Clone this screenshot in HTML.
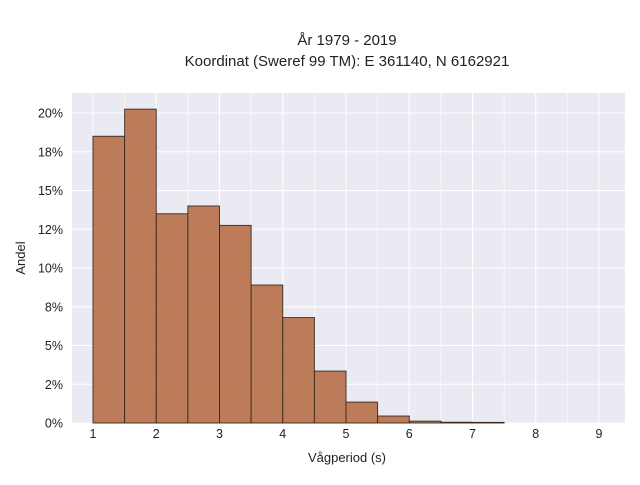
<!DOCTYPE html>
<html><head><meta charset="utf-8"><style>
body{margin:0;background:#fff;}
svg text{font-family:"Liberation Sans",sans-serif;fill:#222;}
</style></head><body>
<svg id="chart" width="640" height="480">
<text x="347" y="45" text-anchor="middle" font-size="15">År 1979 - 2019</text>
<text x="347" y="66" text-anchor="middle" font-size="15">Koordinat (Sweref 99 TM): E 361140, N 6162921</text>
<rect x="72" y="93" width="553" height="330" fill="#eaeaf2"/>
<g id="grid"></g><g id="bars"></g><g id="ticks"></g>
<text x="347" y="462" text-anchor="middle" font-size="13">Vågperiod (s)</text>
<text transform="translate(25,258) rotate(-90)" text-anchor="middle" font-size="13">Andel</text>
</svg>
<script>
const binStarts=[1,1.5,2,2.5,3,3.5,4,4.5,5,5.5,6,6.5,7];
const shares=[18.5,20.25,13.5,14.0,12.75,8.9,6.8,3.35,1.35,0.45,0.12,0.05,0.04];
const xTicks=[1,2,3,4,5,6,7,8,9];
const yTicks=[0,2.5,5,7.5,10,12.5,15,17.5,20];
const yLabels=["0%","2%","5%","8%","10%","12%","15%","18%","20%"];
const binWidth=0.5;
const NS="http://www.w3.org/2000/svg";
const X=v=>93+(v-1)*63.25;
const Y=v=>423-v*15.5;
const grid=document.getElementById('grid'),bars=document.getElementById('bars'),ticks=document.getElementById('ticks');
function mk(tag,attrs,parent){const e=document.createElementNS(NS,tag);for(const k in attrs)e.setAttribute(k,attrs[k]);parent.appendChild(e);return e;}
for(let v=1;v<=9.51;v+=0.5){
  const l=mk('line',{x1:X(v),x2:X(v),y1:93,y2:423,stroke:'#fff','stroke-width':v%1?0.6:1},grid);
  
  
}
yTicks.forEach((t,i)=>{
  const l=mk('line',{x1:72,x2:625,y1:Y(t),y2:Y(t),stroke:'#fff','stroke-width':1},grid);
  
  
  const tx=mk('text',{x:63,y:Y(t)+4.5,'text-anchor':'end','font-size':'12.5'},ticks);
  tx.textContent=yLabels[i];
  
  
});
xTicks.forEach(t=>{
  const tx=mk('text',{x:X(t),y:438,'text-anchor':'middle','font-size':'12.5'},ticks);
  tx.textContent=t;
  
  
});
binStarts.forEach((b,i)=>{
  const r=mk('rect',{x:X(b),y:Y(shares[i]),width:X(b+binWidth)-X(b),height:Y(0)-Y(shares[i]),fill:'#bb7650','fill-opacity':0.95,stroke:'#3a2a20','stroke-width':0.9},bars);
  
  
});
</script>
</body></html>
